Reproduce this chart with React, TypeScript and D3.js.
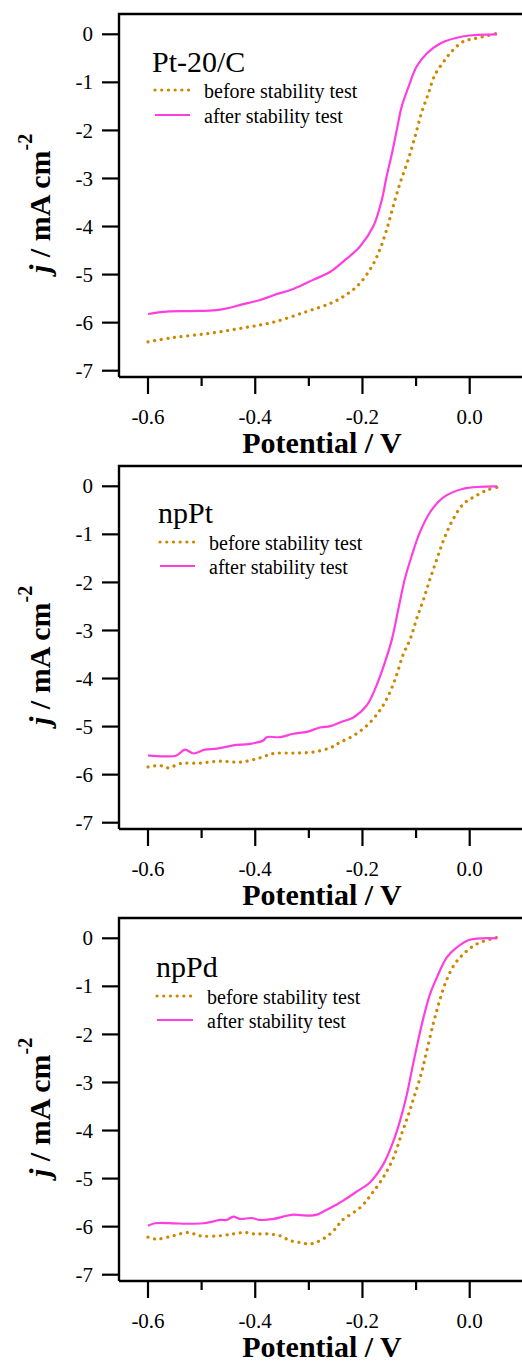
import React from 'react';
import * as d3 from 'd3';

// axis ticks
const potentialTicks = [-0.6, -0.4, -0.2, 0.0];
const potentialMinorTicks = [-0.5, -0.3, -0.1];
const currentTicks = [0, -1, -2, -3, -4, -5, -6, -7];
const seriesNames = ['before stability test', 'after stability test'];
const panelNames = ['Pt-20/C', 'npPt', 'npPd'];

// Pt-20/C  (potential in V, current density in mA cm-2)
const ptcBeforeV = [-0.6, -0.553, -0.49, -0.428, -0.366, -0.304, -0.26, -0.236, -0.208, -0.183, -0.168, -0.155, -0.143, -0.13, -0.115, -0.102, -0.09, -0.077, -0.065, -0.046, -0.034, -0.012, 0.013, 0.051];
const ptcBeforeJ = [-6.4, -6.31, -6.23, -6.12, -5.99, -5.77, -5.6, -5.46, -5.22, -4.84, -4.49, -4.07, -3.59, -3.1, -2.62, -2.13, -1.64, -1.23, -0.85, -0.53, -0.36, -0.15, -0.08, 0.02];
const ptcAfterV = [-0.6, -0.565, -0.52, -0.472, -0.44, -0.428, -0.391, -0.366, -0.329, -0.292, -0.26, -0.236, -0.205, -0.18, -0.164, -0.155, -0.145, -0.136, -0.127, -0.114, -0.099, -0.08, -0.055, -0.011, 0.051];
const ptcAfterJ = [-5.82, -5.77, -5.76, -5.74, -5.67, -5.63, -5.53, -5.43, -5.3, -5.11, -4.94, -4.73, -4.42, -4.0, -3.45, -2.96, -2.48, -1.99, -1.51, -1.09, -0.67, -0.4, -0.19, -0.04, 0.0];

// npPt
const nptBeforeV = [-0.6, -0.578, -0.562, -0.54, -0.503, -0.466, -0.428, -0.391, -0.366, -0.329, -0.292, -0.26, -0.242, -0.217, -0.192, -0.17, -0.155, -0.139, -0.124, -0.111, -0.099, -0.086, -0.074, -0.061, -0.049, -0.034, -0.012, 0.013, 0.032, 0.051];
const nptBeforeJ = [-5.84, -5.81, -5.86, -5.77, -5.76, -5.72, -5.74, -5.65, -5.56, -5.55, -5.53, -5.44, -5.33, -5.19, -4.98, -4.7, -4.43, -4.01, -3.5, -3.18, -2.76, -2.35, -1.93, -1.51, -1.13, -0.75, -0.37, -0.19, -0.08, -0.02];
const nptAfterV = [-0.6, -0.571, -0.547, -0.531, -0.515, -0.494, -0.472, -0.441, -0.41, -0.385, -0.379, -0.354, -0.329, -0.304, -0.279, -0.26, -0.239, -0.217, -0.192, -0.174, -0.158, -0.145, -0.133, -0.121, -0.108, -0.093, -0.074, -0.049, -0.012, 0.051];
const nptAfterJ = [-5.6, -5.62, -5.6, -5.48, -5.56, -5.48, -5.46, -5.39, -5.36, -5.29, -5.22, -5.22, -5.15, -5.11, -5.02, -4.99, -4.9, -4.81, -4.56, -4.15, -3.66, -3.18, -2.55, -1.93, -1.44, -0.96, -0.54, -0.23, -0.05, 0.0];

// npPd
const npdBeforeV = [-0.6, -0.584, -0.553, -0.525, -0.503, -0.466, -0.441, -0.419, -0.403, -0.379, -0.354, -0.335, -0.316, -0.298, -0.279, -0.26, -0.248, -0.239, -0.204, -0.183, -0.161, -0.142, -0.127, -0.114, -0.102, -0.089, -0.08, -0.068, -0.058, -0.046, -0.03, -0.012, 0.013, 0.051];
const npdBeforeJ = [-6.22, -6.26, -6.19, -6.12, -6.19, -6.19, -6.15, -6.12, -6.15, -6.15, -6.19, -6.29, -6.33, -6.36, -6.29, -6.15, -6.01, -5.88, -5.6, -5.32, -4.97, -4.56, -4.07, -3.66, -3.24, -2.76, -2.34, -1.78, -1.37, -0.95, -0.57, -0.33, -0.12, 0.02];
const npdAfterV = [-0.6, -0.587, -0.553, -0.528, -0.497, -0.478, -0.466, -0.453, -0.441, -0.428, -0.407, -0.391, -0.366, -0.348, -0.329, -0.304, -0.285, -0.267, -0.248, -0.236, -0.208, -0.186, -0.161, -0.142, -0.13, -0.117, -0.108, -0.099, -0.086, -0.074, -0.061, -0.043, -0.024, 0.0, 0.051];
const npdAfterJ = [-5.98, -5.93, -5.93, -5.94, -5.93, -5.89, -5.86, -5.86, -5.79, -5.84, -5.82, -5.86, -5.84, -5.79, -5.75, -5.77, -5.75, -5.65, -5.54, -5.46, -5.25, -5.08, -4.7, -4.21, -3.8, -3.24, -2.75, -2.27, -1.64, -1.16, -0.81, -0.4, -0.19, -0.03, 0.0];

const beforeColor = '#cc8800';
const afterColor = '#ff3ee0';
const serif = '"Liberation Serif", "Times New Roman", serif';
const dots = '0.1 6.6';

type Leg = { tx: number; ty: number; lx0: number; lx1: number; r1: number; r2: number; text: number };

const zip = (v: number[], j: number[]) => v.map((d, i) => [d, j[i]] as [number, number]);

function Panel({ top, name, before, after, leg }: { top: number; name: string; before: [number, number][]; after: [number, number][]; leg: Leg }) {
  const x = d3.scaleLinear().domain([-0.6, 0]).range([148, 469.7]);
  const y = d3.scaleLinear().domain([0, -7]).range([34.3, 370.7]);
  const line = d3.line<[number, number]>().x(d => x(d[0])).y(d => y(d[1])).curve(d3.curveCatmullRom.alpha(0.5));
  const frameTop = 14, frameBottom = 377, frameLeft = 119;

  return (
    <g transform={`translate(0,${top})`}>
      <path d={line(before) || ''} fill="none" stroke={beforeColor} strokeWidth={3.2} strokeDasharray={dots} strokeLinecap="round" />
      <path d={line(after) || ''} fill="none" stroke={afterColor} strokeWidth={2.2} />

      {/* frame */}
      <path d={`M${frameLeft},${frameBottom}V${frameTop}H600M${frameLeft},${frameBottom}H600`} fill="none" stroke="#000" strokeWidth={2.4} />

      {currentTicks.map(t => (
        <g key={t}>
          <line x1={102} x2={frameLeft} y1={y(t)} y2={y(t)} stroke="#000" strokeWidth={2.2} />
          <text x={93} y={y(t)} dy="0.34em" textAnchor="end" fontFamily={serif} fontSize={21}>{t}</text>
        </g>
      ))}
      {potentialTicks.map(t => (
        <g key={t}>
          <line x1={x(t)} x2={x(t)} y1={frameBottom} y2={frameBottom + 17} stroke="#000" strokeWidth={2.2} />
          <text x={x(t)} y={424} textAnchor="middle" fontFamily={serif} fontSize={21}>{d3.format('.1f')(t).replace('−', '-')}</text>
        </g>
      ))}
      {potentialMinorTicks.map(t => (
        <line key={t} x1={x(t)} x2={x(t)} y1={frameBottom} y2={frameBottom + 9} stroke="#000" strokeWidth={2.2} />
      ))}

      <text x={322} y={453} textAnchor="middle" fontFamily={serif} fontSize={30} fontWeight="bold">Potential / V</text>
      <text transform="translate(50,273) rotate(-90)" fontFamily={serif} fontSize={30} fontWeight="bold">
        <tspan fontStyle="italic">j</tspan> / mA cm<tspan dy={-18} fontSize={20}>-2</tspan>
      </text>

      {/* legend */}
      <text x={leg.tx} y={leg.ty} fontFamily={serif} fontSize={30}>{name}</text>
      <line x1={leg.lx0} x2={leg.lx1} y1={leg.r1} y2={leg.r1} stroke={beforeColor} strokeWidth={3.2} strokeDasharray={dots} strokeLinecap="round" />
      <text x={leg.text} y={leg.r1 + 8} fontFamily={serif} fontSize={20}>{seriesNames[0]}</text>
      <line x1={leg.lx0} x2={leg.lx1} y1={leg.r2} y2={leg.r2} stroke={afterColor} strokeWidth={2.2} />
      <text x={leg.text} y={leg.r2 + 8} fontFamily={serif} fontSize={20}>{seriesNames[1]}</text>
    </g>
  );
}

export default function App() {
  return (
    <svg width={522} height={1361} style={{ position: 'absolute', left: 0, top: 0, display: 'block', background: '#fff' }}>
      <Panel top={0} name={panelNames[0]} before={zip(ptcBeforeV, ptcBeforeJ)} after={zip(ptcAfterV, ptcAfterJ)}
        leg={{ tx: 152, ty: 72, lx0: 155, lx1: 190, r1: 90, r2: 115, text: 204 }} />
      <Panel top={452} name={panelNames[1]} before={zip(nptBeforeV, nptBeforeJ)} after={zip(nptAfterV, nptAfterJ)}
        leg={{ tx: 158, ty: 71, lx0: 160, lx1: 195, r1: 90, r2: 114, text: 209 }} />
      <Panel top={904} name={panelNames[2]} before={zip(npdBeforeV, npdBeforeJ)} after={zip(npdAfterV, npdAfterJ)}
        leg={{ tx: 156, ty: 73, lx0: 157, lx1: 193, r1: 92, r2: 116, text: 207 }} />
    </svg>
  );
}
